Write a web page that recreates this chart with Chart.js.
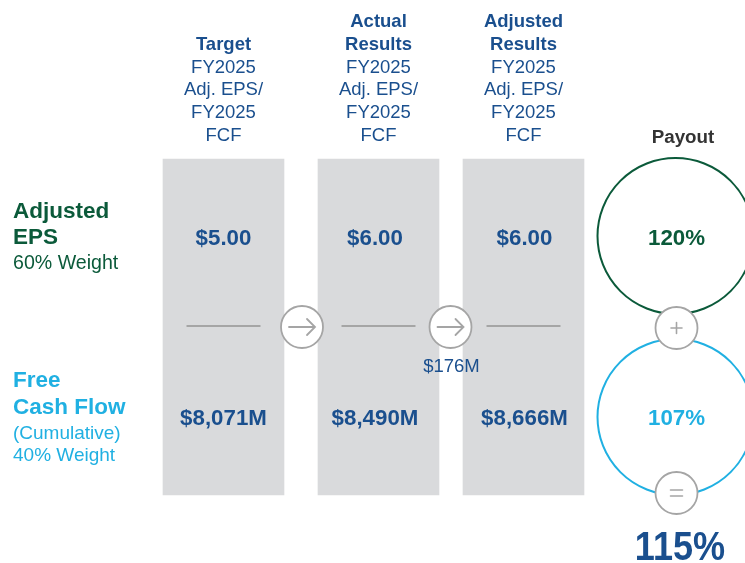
<!DOCTYPE html>
<html>
<head>
<meta charset="utf-8">
<script src="https://cdn.jsdelivr.net/npm/chart.js@4.4.1/dist/chart.umd.min.js"></script>
<style>
  html, body { margin: 0; padding: 0; background: #ffffff; }
  #wrap { width: 745px; height: 563px; }
</style>
</head>
<body>
<div id="wrap"><canvas id="c" width="745" height="563"></canvas></div>
<script>
// ---------------- DATA ----------------
const categories = [['Target'], ['Actual', 'Results'], ['Adjusted', 'Results']];
const periodLines = ['FY2025', 'Adj. EPS/', 'FY2025', 'FCF'];
const epsValues = [5.00, 6.00, 6.00];          // Adjusted EPS ($)
const fcfValues = [8071, 8490, 8666];          // Free Cash Flow ($M)
const fcfAdjustment = 176;                     // $M adjustment between actual and adjusted
const metricNames = [['Adjusted', 'EPS'], ['Free', 'Cash Flow']];
const metricNotes = [['60% Weight'], ['(Cumulative)', '40% Weight']];
const payouts = [120, 107];                    // payout % per metric
const totalPayout = 115;                       // weighted total payout %

// ---------------- LAYOUT (pixel units of the hidden scales) ----------------
const FONT = '"Liberation Sans", Arial, sans-serif';
const NAVY = '#1a4f8e', GREEN = '#0b5a3a', CYAN = '#20b0e2', PANEL = '#d9dadc', GREY = '#a5a5a5';
const colX = [223.5, 378.5, 523.5];
const valueX = [223.5, 375, 524.5];
const panelTop = 159, panelBottom = 495, panelWidth = 121;
const dividerY = 326, dividerHalf = 37;
const arrowX = [302, 450.5], arrowY = 327, smallR = 21;
const payoutX = 675.5, payoutY = [236, 417], payoutR = 78;
const opY = [328, 493];

const datasets = [];
// grey panels (floating bars)
datasets.push({
  type: 'bar', order: 10,
  data: colX.map(x => ({ x: x, y: [panelTop, panelBottom] })),
  backgroundColor: PANEL, borderWidth: 0, barThickness: panelWidth
});
// divider lines inside each panel
colX.forEach(x => datasets.push({
  type: 'line', order: 8,
  data: [{ x: x - dividerHalf, y: dividerY }, { x: x + dividerHalf, y: dividerY }],
  borderColor: GREY, borderWidth: 2, pointRadius: 0, fill: false
}));
// big payout circles
datasets.push({
  type: 'bubble', order: 6,
  data: [{ x: payoutX, y: payoutY[0], r: payoutR }],
  backgroundColor: 'rgba(255,255,255,0)', borderColor: GREEN, borderWidth: 2, clip: false
});
datasets.push({
  type: 'bubble', order: 6,
  data: [{ x: payoutX, y: payoutY[1], r: payoutR }],
  backgroundColor: 'rgba(255,255,255,0)', borderColor: CYAN, borderWidth: 2, clip: false
});
// small circles: arrows and operators
datasets.push({
  type: 'bubble', order: 2,
  data: [
    { x: arrowX[0], y: arrowY, r: smallR },
    { x: arrowX[1], y: arrowY, r: smallR },
    { x: payoutX + 1, y: opY[0], r: smallR },
    { x: payoutX + 1, y: opY[1], r: smallR }
  ],
  backgroundColor: '#ffffff', borderColor: GREY, borderWidth: 1.8, clip: false
});

const textPlugin = {
  id: 'infographicText',
  afterDatasetsDraw(chart) {
    const ctx = chart.ctx;
    const sx = chart.scales.x, sy = chart.scales.y;
    const X = v => sx.getPixelForValue(v), Y = v => sy.getPixelForValue(v);
    ctx.save();
    ctx.textAlign = 'center';
    ctx.textBaseline = 'middle';

    // column headers
    categories.forEach((cat, i) => {
      const lines = cat.map(t => ({ t, bold: true })).concat(periodLines.map(t => ({ t, bold: false })));
      const lastY = 136, lh = 22.8;
      lines.forEach((ln, j) => {
        ctx.font = (ln.bold ? 'bold ' : '') + '18.5px ' + FONT;
        ctx.fillStyle = NAVY;
        ctx.fillText(ln.t, X(colX[i]), Y(lastY - (lines.length - 1 - j) * lh));
      });
    });

    // values
    ctx.font = 'bold 22.3px ' + FONT;
    ctx.fillStyle = NAVY;
    epsValues.forEach((v, i) => ctx.fillText('$' + v.toFixed(2), X(valueX[i]), Y(238.5)));
    fcfValues.forEach((v, i) => ctx.fillText('$' + v.toLocaleString('en-US') + 'M', X(valueX[i]), Y(418.5)));

    // adjustment label
    ctx.font = '18.5px ' + FONT;
    ctx.fillText('$' + fcfAdjustment + 'M', X(arrowX[1] + 1), Y(366.5));

    // row labels
    ctx.textAlign = 'left';
    const rowStyles = [
      { color: GREEN, ys: [212, 238], noteYs: [263.5], noteSize: 19.6 },
      { color: CYAN, ys: [381, 408], noteYs: [433.5, 456], noteSize: 19 }
    ];
    metricNames.forEach((names, i) => {
      const st = rowStyles[i];
      ctx.fillStyle = st.color;
      ctx.font = 'bold 22.5px ' + FONT;
      names.forEach((n, j) => ctx.fillText(n, X(13), Y(st.ys[j])));
      ctx.font = st.noteSize + 'px ' + FONT;
      metricNotes[i].forEach((n, j) => ctx.fillText(n, X(13), Y(st.noteYs[j])));
    });

    // payout header and values
    ctx.textAlign = 'center';
    ctx.fillStyle = '#333333';
    ctx.font = 'bold 18.8px ' + FONT;
    ctx.fillText('Payout', X(683), Y(138));
    ctx.font = 'bold 22.3px ' + FONT;
    ctx.fillStyle = GREEN;
    ctx.fillText(payouts[0] + '%', X(676.5), Y(239));
    ctx.fillStyle = CYAN;
    ctx.fillText(payouts[1] + '%', X(676.5), Y(419));
    // total payout (slightly condensed, large)
    ctx.save();
    ctx.fillStyle = NAVY;
    ctx.font = 'bold 41px ' + FONT;
    ctx.translate(X(680), Y(549));
    ctx.scale(0.88, 1);
    ctx.fillText(totalPayout + '%', 0, 0);
    ctx.restore();

    // arrow glyphs
    ctx.strokeStyle = GREY;
    ctx.lineWidth = 1.8;
    ctx.lineCap = 'round';
    arrowX.forEach(ax => {
      const cx = X(ax), cy = Y(arrowY);
      ctx.beginPath();
      ctx.moveTo(cx - 13, cy); ctx.lineTo(cx + 13, cy);
      ctx.moveTo(cx + 5, cy - 8); ctx.lineTo(cx + 13, cy); ctx.lineTo(cx + 5, cy + 8);
      ctx.stroke();
    });
    // operator glyphs
    ctx.lineWidth = 1.6;
    const px = X(payoutX + 1);
    let cy = Y(opY[0]);
    ctx.beginPath();
    ctx.moveTo(px - 5.5, cy); ctx.lineTo(px + 5.5, cy);
    ctx.moveTo(px, cy - 5.5); ctx.lineTo(px, cy + 5.5);
    ctx.stroke();
    cy = Y(opY[1]);
    ctx.beginPath();
    ctx.moveTo(px - 6, cy - 3); ctx.lineTo(px + 6, cy - 3);
    ctx.moveTo(px - 6, cy + 3); ctx.lineTo(px + 6, cy + 3);
    ctx.stroke();
    ctx.restore();
  }
};

new Chart(document.getElementById('c'), {
  type: 'bar',
  data: { datasets },
  options: {
    responsive: false,
    animation: false,
    layout: { padding: 0, autoPadding: false },
    plugins: { legend: { display: false }, tooltip: { enabled: false }, title: { display: false } },
    scales: {
      x: { type: 'linear', min: 0, max: 745, display: false, offset: false, grid: { offset: false } },
      y: { type: 'linear', min: 0, max: 563, reverse: true, display: false }
    }
  },
  plugins: [textPlugin]
});
</script>
</body>
</html>
